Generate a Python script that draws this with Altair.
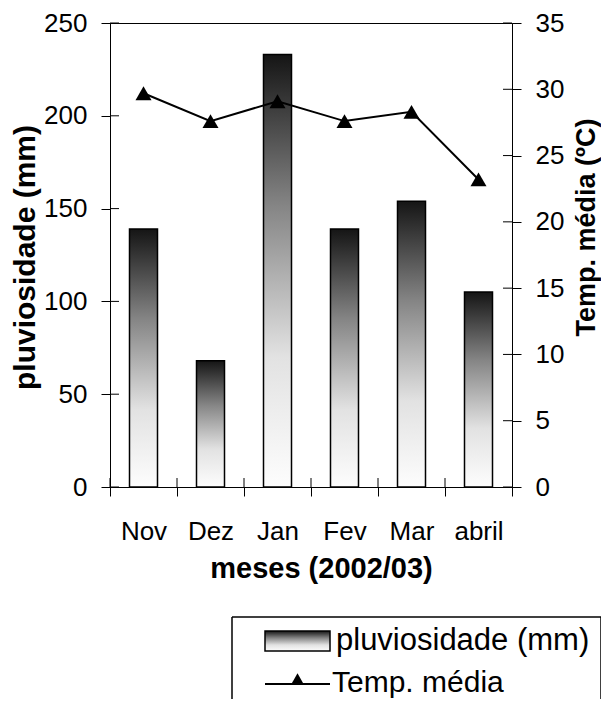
import altair as alt
import pandas as pd

# ---- data ----
months = ["Nov", "Dez", "Jan", "Fev", "Mar", "abril"]
rain_mm = [139, 68, 233, 139, 154, 105]
temp_c = [29.7, 27.6, 29.1, 27.6, 28.3, 23.2]
rain_ticks = [0, 50, 100, 150, 200, 250]
temp_ticks = [0, 5, 10, 15, 20, 25, 30, 35]

df = pd.DataFrame({"month": months, "rain": rain_mm, "temp": temp_c})
rain_tick_df = pd.DataFrame({"rain": rain_ticks})
temp_tick_df = pd.DataFrame({"temp": temp_ticks})
one = pd.DataFrame({"k": [0]})

W, H = 402, 464
FONT = "Liberation Sans"

grad = alt.LinearGradient(
    gradient="linear", x1=0, x2=0, y1=0, y2=1,
    stops=[
        alt.GradientStop(offset=0, color="#151515"),
        alt.GradientStop(offset=0.35, color="#858585"),
        alt.GradientStop(offset=0.7, color="#e2e2e2"),
        alt.GradientStop(offset=1, color="#fdfdfd"),
    ],
)

xscale = alt.Scale(domain=months, paddingInner=0, paddingOuter=0)
xaxis = alt.Axis(
    title="meses (2002/03)", tickBand="extent", labelAngle=0, labelPadding=22,
    titleX=211, titleY=81, titleBaseline="middle", titleAlign="center",
    titleFontSize=29,
)
xenc = alt.X("month:N", scale=xscale, axis=xaxis)

yleft = alt.Y(
    "rain:Q",
    scale=alt.Scale(domain=[0, 250], nice=False),
    axis=alt.Axis(
        values=rain_ticks, orient="left", title="pluviosidade (mm)",
        labelPadding=14, titleAngle=270, titleX=-85, titleY=234,
        titleBaseline="middle", titleAlign="center",
    ),
)
yright = alt.Y(
    "temp:Q",
    scale=alt.Scale(domain=[0, 35], nice=False),
    axis=alt.Axis(
        values=temp_ticks, orient="right", title="Temp. média (ºC)",
        labelPadding=14, titleAngle=270, titleX=74, titleY=204,
        titleBaseline="middle", titleAlign="center", titleFontSize=27,
    ),
)

bars = alt.Chart(df).mark_bar(
    color=grad, stroke="black", strokeWidth=1.5, width=28
).encode(x=xenc, y=yleft)

lticks = alt.Chart(rain_tick_df).mark_rule(color="black", strokeWidth=1).encode(
    y=yleft, x=alt.value(0), x2=alt.value(9)
)
xticks = alt.Chart(df).mark_rule(color="black", strokeWidth=1).encode(
    x=alt.X("month:N", bandPosition=0, scale=xscale, axis=xaxis),
    y=alt.value(H - 9), y2=alt.value(H),
)

# ---- manual legend ----
leg_top = alt.Chart(one).mark_rule(color="black", strokeWidth=1.5).encode(
    x=alt.value(122), x2=alt.value(491), y=alt.value(594)
)
leg_left = alt.Chart(one).mark_rule(color="black", strokeWidth=1.5).encode(
    x=alt.value(122), y=alt.value(594), y2=alt.value(740)
)
leg_right = alt.Chart(one).mark_rule(color="black", strokeWidth=1.5).encode(
    x=alt.value(491), y=alt.value(594), y2=alt.value(740)
)
leg_swatch = alt.Chart(one).mark_rect(color=grad, stroke="black", strokeWidth=1.5).encode(
    x=alt.value(155), x2=alt.value(220), y=alt.value(608), y2=alt.value(628)
)
leg_text1 = alt.Chart(one).mark_text(
    align="left", baseline="alphabetic", font=FONT, fontSize=31, color="black"
).encode(x=alt.value(226), y=alt.value(627), text=alt.value("pluviosidade (mm)"))
leg_line = alt.Chart(one).mark_rule(color="black", strokeWidth=2).encode(
    x=alt.value(155), x2=alt.value(220), y=alt.value(661)
)
leg_tri = alt.Chart(one).mark_point(
    shape="triangle-up", filled=True, size=170, color="black", opacity=1
).encode(x=alt.value(187.5), y=alt.value(656))
leg_text2 = alt.Chart(one).mark_text(
    align="left", baseline="alphabetic", font=FONT, fontSize=30, color="black"
).encode(x=alt.value(222), y=alt.value(669), text=alt.value("Temp. média"))

left_layer = alt.layer(
    bars, lticks, xticks, leg_top, leg_left, leg_right, leg_swatch,
    leg_text1, leg_line, leg_tri, leg_text2,
)

line = alt.Chart(df).mark_line(color="black", strokeWidth=2).encode(x=xenc, y=yright)
pts = alt.Chart(df).mark_point(
    shape="triangle-up", filled=True, size=256, color="black", opacity=1
).encode(x=xenc, y=yright)
rticks = alt.Chart(temp_tick_df).mark_rule(color="black", strokeWidth=1).encode(
    y=yright, x=alt.value(W - 9), x2=alt.value(W)
)
right_layer = alt.layer(line, pts, rticks)

chart = (
    alt.layer(left_layer, right_layer)
    .resolve_scale(y="independent")
    .properties(
        width=W, height=H,
        padding={"left": 102, "top": 15, "right": 89, "bottom": 212},
        autosize=alt.AutoSizeParams(type="none"),
    )
    .configure_view(stroke="black", strokeWidth=1)
    .configure_axis(
        labelFont=FONT, labelFontSize=26, labelColor="black",
        titleFont=FONT, titleFontSize=30, titleFontWeight="bold", titleColor="black",
        domainColor="black", domainWidth=1, tickColor="black", tickSize=9, tickWidth=1,
        grid=False,
    )
)

chart.save("out.html", embed_options={"renderer": "svg", "actions": False})
